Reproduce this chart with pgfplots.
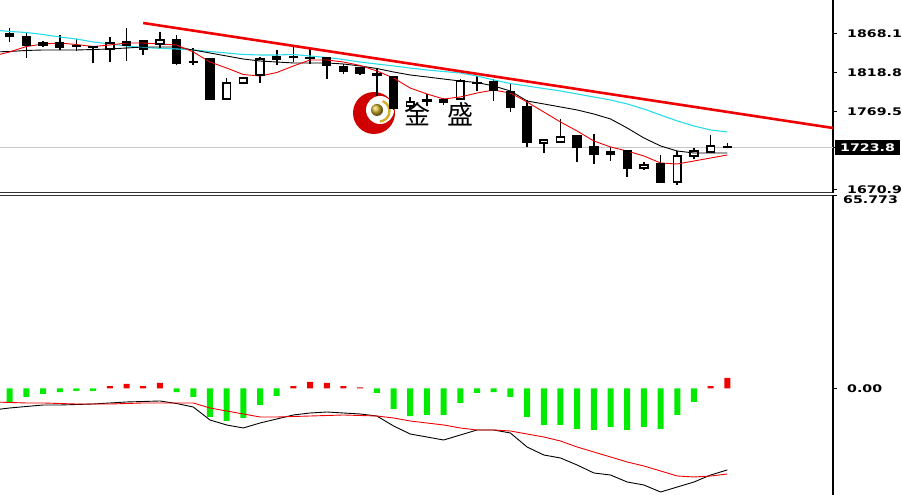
\documentclass[border=0pt]{standalone}
\usepackage{pgfplots}
\pgfplotsset{compat=1.18}
\usepackage{pgfplotstable}
\usepackage{fontspec}
\setmainfont{DejaVu Sans}
\newfontfamily\axfont{DejaVu Sans}[FakeStretch=1.35]
\newfontfamily\cjk{Noto Sans CJK SC}
\definecolor{mtcyan}{RGB}{40,220,235}
\definecolor{mtgreen}{RGB}{0,235,0}
\definecolor{mtred}{RGB}{240,0,0}
\definecolor{gold}{RGB}{210,175,40}

% bearish candles (close below open): index, open, high, low, close
\pgfplotstableread{
i O H L C
0 1867.2 1874.8 1857.1 1864.7
1 1863.4 1869.8 1836.9 1853.3
2 1855.8 1858.4 1850.8 1853.3
3 1855.8 1866.0 1847.0 1850.8
4 1852.0 1860.9 1845.7 1851.4
5 1850.8 1852.0 1830.6 1850.6
7 1857.1 1874.8 1833.1 1853.3
8 1858.4 1859.6 1840.7 1848.3
10 1859.6 1866.0 1828.0 1830.6
11 1832.5 1849.5 1828.0 1831.2
12 1835.6 1836.9 1783.8 1785.1
16 1838.1 1847.0 1828.0 1835.6
17 1838.8 1850.8 1831.8 1837.5
18 1837.5 1848.3 1829.3 1836.3
19 1836.9 1838.1 1810.3 1828.0
20 1825.5 1829.3 1816.7 1820.5
21 1824.2 1825.5 1815.4 1817.9
22 1816.7 1824.2 1788.8 1815.4
23 1812.9 1814.1 1771.2 1773.7
25 1783.8 1791.4 1776.2 1782.5
26 1784.4 1786.3 1777.5 1781.3
28 1805.9 1814.1 1795.2 1804.6
29 1806.5 1810.3 1782.5 1796.4
30 1793.9 1805.3 1768.6 1775.0
31 1775.0 1783.8 1724.4 1730.7
34 1738.3 1739.6 1705.5 1724.4
35 1724.4 1740.8 1702.9 1715.6
37 1719.3 1720.6 1686.5 1697.8
39 1702.9 1714.3 1678.9 1680.1
43 1725.0 1729.4 1723.1 1723.8
}\bearc

% bullish candles (close above open)
\pgfplotstableread{
i O H L C
6 1848.3 1863.4 1831.8 1855.8
9 1854.6 1869.8 1849.5 1859.6
13 1785.1 1811.6 1784.4 1805.3
14 1805.3 1812.9 1804.6 1811.6
15 1815.4 1838.1 1805.3 1835.6
24 1776.2 1787.6 1772.4 1781.3
27 1785.1 1810.3 1783.8 1807.8
32 1729.4 1734.5 1716.8 1733.2
33 1730.7 1759.8 1729.4 1737.0
36 1715.6 1724.4 1706.7 1718.1
38 1697.8 1705.5 1695.3 1701.6
40 1680.1 1719.3 1676.4 1713.0
41 1713.0 1723.1 1709.2 1719.3
42 1718.1 1739.6 1716.8 1725.7
}\bullc

% moving averages: slow (cyan), medium (black), fast (red)
\pgfplotstableread{
i cyan black red
-1 1872.3 1844.5 1839.4
0 1870.4 1845.1 1844.5
1 1869.1 1846.4 1851.4
2 1866.6 1847.0 1854.6
3 1863.4 1847.0 1855.8
4 1860.9 1847.0 1853.9
5 1857.1 1847.6 1851.4
6 1854.6 1848.3 1853.3
7 1852.0 1849.5 1855.8
8 1850.1 1850.8 1855.8
9 1849.1 1850.8 1854.6
10 1848.3 1850.8 1853.3
11 1847.0 1847.0 1844.5
12 1845.1 1843.2 1831.8
13 1843.2 1839.4 1824.2
14 1841.3 1835.6 1816.0
15 1840.7 1833.1 1814.1
16 1840.7 1831.8 1818.5
17 1841.3 1830.6 1826.8
18 1839.4 1830.6 1834.4
19 1837.5 1830.6 1834.4
20 1835.0 1829.3 1831.8
21 1831.8 1826.8 1827.4
22 1829.3 1823.6 1820.5
23 1826.8 1819.2 1811.6
24 1824.2 1815.4 1798.9
25 1821.7 1812.9 1791.4
26 1819.8 1810.3 1785.1
27 1817.9 1807.8 1787.6
28 1814.1 1805.9 1792.6
29 1809.1 1801.5 1796.4
30 1804.6 1795.2 1792.6
31 1801.5 1782.5 1781.3
32 1798.3 1778.8 1768.6
33 1795.2 1775.0 1756.0
34 1791.4 1771.2 1744.6
35 1787.6 1766.1 1732.0
36 1783.8 1759.8 1724.4
37 1778.8 1748.4 1719.3
38 1772.4 1735.8 1713.0
39 1764.8 1725.7 1704.2
40 1757.3 1719.3 1702.9
41 1750.9 1716.8 1706.7
42 1745.9 1716.8 1710.5
43 1743.4 1716.8 1714.3
}\mas

% MACD main and signal lines
\pgfplotstableread{
i macd signal
-1 -7.35 -4.61
0 -6.66 -4.78
1 -6.15 -4.95
2 -5.64 -4.95
3 -5.64 -5.13
4 -5.47 -5.30
5 -5.30 -5.30
6 -4.95 -5.30
7 -4.61 -5.13
8 -4.44 -4.95
9 -4.27 -4.95
10 -5.13 -4.95
11 -6.32 -4.95
12 -10.76 -6.66
13 -12.47 -7.69
14 -13.49 -8.71
15 -11.79 -9.74
16 -10.42 -9.74
17 -9.05 -9.57
18 -8.37 -9.40
19 -8.03 -9.23
20 -8.37 -9.05
21 -8.71 -9.23
22 -9.40 -9.40
23 -12.81 -10.08
24 -15.55 -11.10
25 -16.57 -11.79
26 -17.60 -12.47
27 -15.89 -13.49
28 -14.18 -14.18
29 -14.18 -14.18
30 -15.20 -14.52
31 -19.99 -15.55
32 -22.72 -16.57
33 -23.74 -17.94
34 -26.14 -19.99
35 -28.87 -21.70
36 -29.56 -23.40
37 -31.95 -25.11
38 -32.97 -26.48
39 -35.37 -28.19
40 -33.66 -29.90
41 -31.95 -30.23
42 -29.56 -29.90
43 -27.82 -29.21
}\macd

\pgfplotsset{
  mtlabel/.style={font=\axfont\bfseries\fontsize{10.5pt}{12pt}\selectfont},
  nomark/.style={only marks, mark=*, mark size=0pt, mark options={draw=none, fill=none, opacity=0}, forget plot},
  wick/.style={nomark,
    error bars/.cd, y dir=plus, y explicit, error mark=none,
    error bar style={draw=black, line width=1.6pt, line cap=butt, opacity=1}},
  body/.style={nomark,
    error bars/.cd, y dir=plus, y explicit, error mark=none,
    error bar style={draw=black, line width=9.4pt, line cap=butt, opacity=1}},
  inner/.style={nomark,
    error bars/.cd, y dir=plus, y explicit, error mark=none,
    error bar style={draw=white, line width=6.2pt, line cap=butt, opacity=1,
      shorten <=0.8pt, shorten >=0.8pt}},
  edge/.style={only marks, mark=-, mark size=4.7pt, forget plot,
    mark options={draw=black, line width=1.6pt}},
}

\begin{document}
\begin{tikzpicture}
% watermark logo (behind the chart)
\fill[red!82!black] (374pt,382pt) circle (21pt);
\fill[white] (380pt,385pt) circle (14pt);
\draw[gold, line width=2.4pt] (379pt,384pt) ++(70:10.5pt) arc (70:-85:10.5pt);
\shade[ball color=gold] (377pt,385pt) circle (6pt);
\node[font=\cjk\fontsize{26pt}{28pt}\selectfont, text=black] at (417pt,381pt) {金};
\node[font=\cjk\fontsize{26pt}{28pt}\selectfont, text=black] at (460pt,381pt) {盛};

% ---------- price panel ----------
\begin{axis}[
  at={(0pt,302.2pt)}, anchor=south west, scale only axis,
  width=833pt, height=192.8pt,
  xmin=-0.58, xmax=49.33, ymin=1666.5, ymax=1910.19,
  axis x line*=bottom, axis y line*=right,
  x axis line style={line width=1.1pt, black!80, -},
  y axis line style={line width=1.8pt, black, -},
  xtick=\empty,
  ytick={1670.9,1769.5,1818.8,1868.1},
  yticklabels={1670.9,1769.5,1818.8,1868.1},
  tick align=outside, major tick length=4pt,
  ytick style={line width=1pt, black},
  yticklabel style={mtlabel, anchor=west, inner sep=0pt, xshift=10pt},
  extra y ticks={1723.8}, extra y tick labels={1723.8},
  extra y tick style={grid=major, major grid style={black!22, line width=1pt},
    yticklabel style={fill=black, text=white, inner xsep=5pt, inner ysep=3.5pt, xshift=-12pt}},
]
% wicks
\addplot[wick] table[x=i, y=L, y error expr={\thisrow{H}-\thisrow{L}}] {\bearc};
\addplot[wick] table[x=i, y=L, y error expr={\thisrow{H}-\thisrow{L}}] {\bullc};
% bearish bodies
\addplot[body] table[x=i, y=C, y error expr={\thisrow{O}-\thisrow{C}}] {\bearc};
\addplot[edge] table[x=i, y=C] {\bearc};
\addplot[edge] table[x=i, y=O] {\bearc};
% bullish bodies
\addplot[body] table[x=i, y=O, y error expr={\thisrow{C}-\thisrow{O}}] {\bullc};
\addplot[inner] table[x=i, y=O, y error expr={\thisrow{C}-\thisrow{O}}] {\bullc};
\addplot[edge] table[x=i, y=O] {\bullc};
\addplot[edge] table[x=i, y=C] {\bullc};
% moving averages and trend line
\addplot[mtcyan, line width=1.1pt] table[x=i, y=cyan] {\mas};
\addplot[black, line width=0.9pt] table[x=i, y=black] {\mas};
\addplot[mtred, line width=0.9pt] table[x=i, y=red] {\mas};
\addplot[mtred, line width=2.6pt] coordinates {(8,1881.1) (49.33,1748.4)};
\end{axis}

% ---------- MACD panel ----------
\begin{axis}[
  at={(0pt,0pt)}, anchor=south west, scale only axis,
  width=833pt, height=299.8pt,
  xmin=-0.58, xmax=49.33, ymin=-36.39, ymax=66.04,
  axis x line*=top, axis y line*=right,
  x axis line style={line width=1.1pt, black!80, -},
  y axis line style={line width=1.8pt, black, -},
  xtick=\empty,
  ytick={0}, yticklabels={0.00},
  tick align=outside, major tick length=4pt,
  ytick style={line width=1pt, black},
  yticklabel style={mtlabel, anchor=west, inner sep=0pt, xshift=10pt},
  extra y ticks={65.773}, extra y tick labels={65.773},
  extra y tick style={yticklabel style={anchor=north west, yshift=0.5pt, xshift=-4pt}},
]
\addplot[ybar, bar width=6pt, bar shift=0pt, fill=mtgreen, draw=none] coordinates {
(0,-4.61) (1,-2.90) (2,-1.88) (3,-1.20) (4,-0.85) (5,-0.85) (10,-1.20) (11,-2.90)
(12,-9.74) (13,-11.10) (14,-10.08) (15,-5.64) (16,-2.56) (22,-1.54) (23,-7.00)
(24,-9.40) (25,-9.05) (26,-9.05) (27,-4.95) (28,-1.54) (29,-1.20) (30,-2.90)
(31,-9.74) (32,-12.47) (33,-12.47) (34,-13.84) (35,-14.18) (36,-13.15) (37,-14.18)
(38,-13.15) (39,-13.84) (40,-9.05) (41,-4.61)};
\addplot[ybar, bar width=6pt, bar shift=0pt, fill=mtred, draw=none] coordinates {
(6,0.85) (7,1.54) (8,0.85) (9,1.88) (17,0.85) (18,2.22) (19,1.88) (20,0.85)
(21,0.34) (42,0.85) (43,3.59)};
\addplot[black, line width=0.9pt] table[x=i, y=macd] {\macd};
\addplot[mtred, line width=0.9pt] table[x=i, y=signal] {\macd};
\end{axis}

\pgfresetboundingbox
\path[use as bounding box] (0pt,0pt) rectangle (902pt,495pt);
\end{tikzpicture}
\end{document}
